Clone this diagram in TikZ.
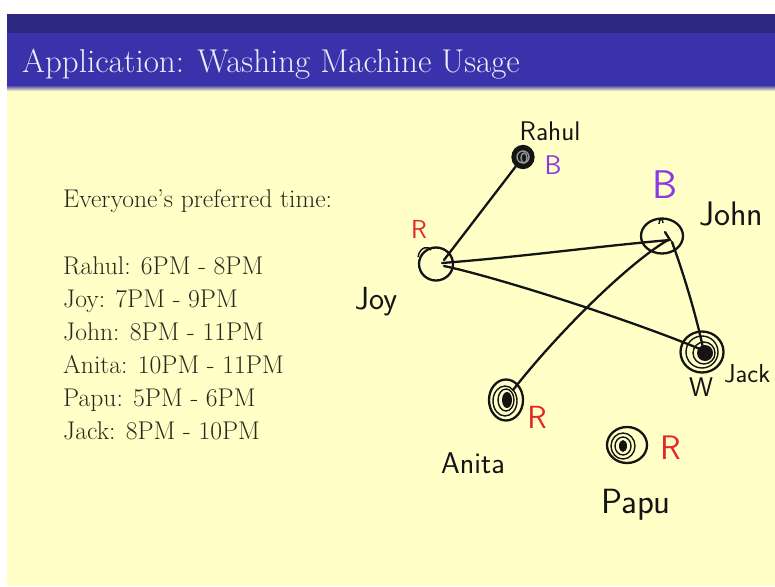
\documentclass[tikz,border=0pt]{standalone}
\usepackage{fontspec}
\usetikzlibrary{shapes.geometric}

\definecolor{slidebg}{RGB}{255,255,199}
\definecolor{bardark}{RGB}{46,41,128}
\definecolor{barblue}{RGB}{58,50,170}
\definecolor{titletext}{RGB}{236,236,250}
\definecolor{bodyink}{RGB}{40,40,30}
\definecolor{ink}{RGB}{20,20,20}
\definecolor{penred}{RGB}{228,38,38}
\definecolor{penpurple}{RGB}{140,58,230}

\begin{document}
\begin{tikzpicture}[x=1pt,y=-1pt,
  person/.style={ellipse, draw=ink, line width=2.3pt, inner sep=0pt},
  ring/.style={draw=ink, line width=1.4pt},
  edge/.style={draw=ink, line width=2.3pt, line cap=round},
  hand/.style={font=\sffamily\fontsize{#1}{#1}\selectfont, text=ink, inner sep=0pt},
  bodyline/.style={anchor=base west, inner sep=0pt, text=bodyink,
    font=\fontsize{25.6}{30}\selectfont}]

% page, slide area and title bar
\useasboundingbox (0,0) rectangle (775,586);
\fill[white] (0,0) rectangle (775,586);
\fill[slidebg] (7,88) rectangle (775,586);
\fill[bardark] (7,14) rectangle (775,33);
\fill[barblue] (7,33) rectangle (775,85);
\shade[top color=barblue, bottom color=slidebg] (7,85) rectangle (775,91);
\node[anchor=base west, inner sep=0pt, text=titletext,
  font=\fontsize{33}{38}\selectfont] (title) at (22,72)
  {Application: Washing Machine Usage};

% preferred times
\node[bodyline] (intro) at (63,207) {Everyone's preferred time:};
\node[bodyline] (t1) at (63,274) {Rahul: 6PM - 8PM};
\node[bodyline] (t2) at (63,307) {Joy: 7PM - 9PM};
\node[bodyline] (t3) at (63,340) {John: 8PM - 11PM};
\node[bodyline] (t4) at (63,373) {Anita: 10PM - 11PM};
\node[bodyline] (t5) at (63,406) {Papu: 5PM - 6PM};
\node[bodyline] (t6) at (63,439) {Jack: 8PM - 10PM};

% people
\node[person, minimum width=34pt, minimum height=33pt] (joy) at (436,264) {};
\node[person, minimum width=21pt, minimum height=22pt, fill=ink] (rahul) at (523,157) {};
\node[person, minimum width=42pt, minimum height=35pt] (john) at (662,236) {};
\node[person, minimum width=43pt, minimum height=41pt] (jack) at (702,352) {};
\node[person, minimum width=34pt, minimum height=41pt] (anita) at (506,400) {};
\node[person, minimum width=40pt, minimum height=36pt] (papu) at (627,445) {};

% scribbled centres
\draw[ring, draw=ink!45] (rahul.center) circle[radius=6];
\draw[ring, draw=ink!45] ([shift={(1,1)}]rahul.center) circle[x radius=3, y radius=5];
\draw[ring] (jack.center) circle[radius=16];
\draw[ring] ([shift={(2,1)}]jack.center) circle[radius=11];
\fill[ink] ([shift={(3,1)}]jack.center) circle[radius=8];
\draw[ring] ([shift={(-1,1)}]anita.center) ellipse[x radius=12, y radius=15];
\draw[ring] (anita.center) ellipse[x radius=8, y radius=11];
\fill[ink] ([shift={(1,0)}]anita.center) ellipse[x radius=5, y radius=8];
\draw[ring] ([shift={(-4,1)}]papu.center) ellipse[x radius=12, y radius=13];
\draw[ring] ([shift={(-4,1)}]papu.center) ellipse[x radius=8, y radius=9];
\fill[ink] ([shift={(-4,1)}]papu.center) ellipse[x radius=4, y radius=6];
\draw[ring] ([shift={(-18,-7)}]joy.center) .. controls ([shift={(-16,-18)}]joy.center)
  and ([shift={(-7,-18)}]joy.center) .. ([shift={(-5,-14)}]joy.center);
\draw[ring] ([shift={(-3,-12)}]john.center) .. controls ([shift={(-3,-18)}]john.center)
  and ([shift={(1,-18)}]john.center) .. ([shift={(1,-13)}]john.center);

% conflicts
\draw[edge] ([shift={(8,-4)}]joy.center) -- (rahul);
\draw[edge] ([shift={(6,-1)}]joy.center) .. controls (520,257) and (600,246)
  .. ([shift={(8,4)}]john.center) -- ([shift={(3,-4)}]john.center);
\draw[edge] ([shift={(8,2)}]joy.center) .. controls (500,278) and (630,320)
  .. ([shift={(-2,-3)}]jack.center);
\draw[edge] ([shift={(6,4)}]john.center) .. controls (630,262) and (560,330)
  .. ([shift={(7,-10)}]anita.center);
\draw[edge] ([shift={(10,6)}]john.center) .. controls (684,275) and (696,315)
  .. ([shift={(1,-4)}]jack.center);

% names and colours
\node[hand=27] (rahul-name) at (550,131) {Rahul};
\node[hand=27, text=penpurple] (rahul-tag) at (553,165) {B};
\node[hand=40, text=penpurple] (john-tag) at (665,185) {B};
\node[hand=34] (john-name) at (731,214) {John};
\node[hand=26, text=penred] (joy-tag) at (419,229) {R};
\node[hand=32] (joy-name) at (376,302) {Joy};
\node[hand=27] (jack-tag) at (701,387) {W};
\node[hand=26, anchor=base west] (jack-name) at (724,382) {Jack};
\node[hand=32, text=penred] (anita-tag) at (537,417) {R};
\node[hand=30] (anita-name) at (473,463) {Anita};
\node[hand=34, text=penred] (papu-tag) at (671,448) {R};
\node[hand=35] (papu-name) at (636,505) {Papu};
\end{tikzpicture}
\end{document}
